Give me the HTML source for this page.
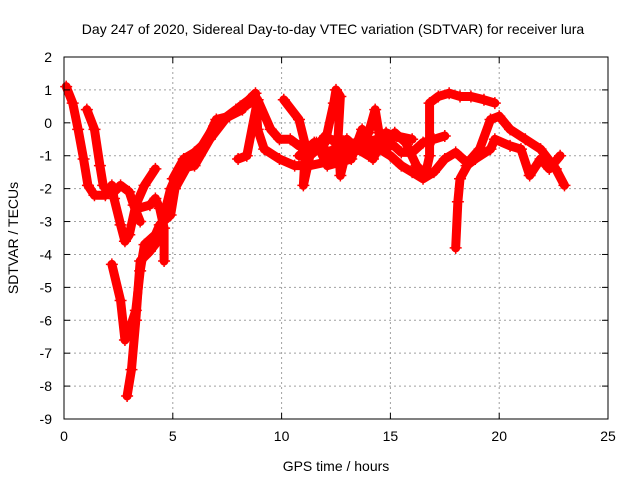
<!DOCTYPE html>
<html><head><meta charset="utf-8"><style>
body{margin:0;background:#fff}
svg{display:block;font-family:"Liberation Sans",sans-serif}
</style></head><body>
<svg id="chart" width="640" height="480" viewBox="0 0 640 480">
<rect width="640" height="480" fill="#fff"/>
<text x="333" y="34" font-size="14" text-anchor="middle" fill="#000">Day 247 of 2020, Sidereal Day-to-day VTEC variation (SDTVAR) for receiver lura</text>
<g id="grid"></g>
<g id="series"></g>
<rect x="64" y="57" width="544" height="362" fill="none" stroke="#000" stroke-width="1"/>
<g id="ticks"></g>
<text x="336" y="471" font-size="14" text-anchor="middle">GPS time / hours</text>
<text transform="translate(18,238) rotate(-90)" font-size="14" text-anchor="middle">SDTVAR / TECUs</text>
</svg>
<script>
const xTicks=[0,5,10,15,20,25];
const yTicks=[2,1,0,-1,-2,-3,-4,-5,-6,-7,-8,-9];
const s1=[[0.1,1.1],[0.4,0.6],[0.65,-0.2],[0.9,-1.1],[1.1,-1.9],[1.4,-2.2],[1.9,-2.2],[2.2,-1.9],[2.3,-2.3],[2.6,-3.1],[2.8,-3.6],[3.0,-3.4],[3.3,-2.5],[3.7,-1.9],[4.2,-1.4]];
const s2=[[1.05,0.4],[1.4,-0.2],[1.65,-1.3],[1.8,-1.9],[2.0,-2.1],[2.3,-2.1],[2.6,-1.9],[3.0,-2.1],[3.2,-2.5],[3.5,-3.0]];
const s3=[[2.2,-4.3],[2.6,-5.4],[2.8,-6.6],[3.0,-6.3],[3.3,-5.7],[3.5,-4.5],[3.7,-3.7],[4.2,-3.4],[4.4,-3.1],[4.9,-2.8],[5.1,-2.0],[5.6,-1.4],[6.25,-0.8],[6.9,-0.1],[7.9,0.4],[8.3,0.5],[8.8,0.7]];
const s4=[[2.9,-8.3],[3.1,-7.5],[3.3,-6.0],[3.5,-4.2],[3.95,-3.9],[4.3,-3.6],[4.6,-2.8],[4.9,-2.0],[5.3,-1.4],[6.0,-1.3],[6.7,-0.5],[7.4,0.1],[8.1,0.5],[8.5,0.7]];
const s5=[[3.4,-2.6],[3.95,-2.5],[4.2,-2.3],[4.4,-2.6],[4.6,-3.2],[4.6,-4.2]];
const s6=[[5.0,-1.7],[5.5,-1.1],[6.0,-0.9],[6.5,-0.6],[7.0,0.1],[7.6,0.2],[8.2,0.4]];
const s7=[[8.5,0.7],[8.8,0.9],[8.9,-0.2],[9.2,-0.8],[9.9,-1.1],[10.6,-1.3],[11.3,-1.3],[12.0,-1.2],[13.0,-0.9],[14.0,-0.6],[15.0,-1.0],[15.5,-1.3],[16.0,-1.5],[16.5,-1.7],[17.0,-1.5],[17.5,-1.1],[18.0,-0.9],[18.5,-1.2]];
const s8=[[8.0,-1.1],[8.4,-1.0],[8.9,0.7],[9.5,-0.2],[9.9,-0.5],[10.4,-0.5],[10.8,-0.7],[11.5,-0.8],[12.0,-0.4],[13.0,-0.8],[14.0,-0.5],[15.0,-0.7]];
const s9=[[10.1,0.7],[10.8,0.1],[11.1,-0.7],[11.0,-1.9],[11.3,-1.0],[12.0,-0.6],[12.4,0.6],[12.5,1.0],[12.7,0.8],[12.6,-0.4],[12.7,-1.6],[13.0,-0.8],[14.0,-0.3],[14.3,0.4],[14.5,-0.4],[15.0,-0.6],[15.5,-0.9],[16.0,-0.9],[16.5,-0.6],[17.0,-0.5],[17.5,-0.4]];
const s10=[[15.2,-0.3],[15.7,-0.6],[16.2,-1.3],[16.6,-1.6],[16.8,-1.0],[16.8,0.6],[17.2,0.8],[17.7,0.9],[18.2,0.8],[18.7,0.8],[19.3,0.7],[19.8,0.6]];
const s11=[[18.0,-3.8],[18.1,-2.4],[18.2,-1.7],[18.7,-1.1],[19.1,-0.8],[19.6,0.1],[20.0,0.2],[20.5,-0.2],[21.2,-0.5],[21.9,-0.8],[22.6,-1.4],[23.0,-1.9]];
const s12=[[18.5,-1.3],[18.9,-1.1],[19.6,-0.8],[19.8,-0.5],[20.5,-0.7],[21.0,-0.8],[21.4,-1.6],[21.9,-1.1],[22.3,-1.4],[22.8,-1.0]];
const s13=[[10.8,-1.0],[11.5,-0.6],[12.2,-0.9],[13.0,-0.5],[13.5,-0.8],[14.0,-1.0],[14.6,-0.5],[15.3,-0.4],[16.0,-0.5]];
const s14=[[11.6,-0.6],[12.1,-1.3],[13.2,-1.1],[13.7,-0.2],[14.2,-1.1],[14.8,-0.3],[15.6,-0.5]];
const allSeries=[s1,s2,s3,s4,s5,s6,s7,s8,s9,s10,s11,s12,s13,s14];
const X=t=>64+t*(544/25);
const Y=v=>57+(2-v)*(362/11);
const NS="http://www.w3.org/2000/svg";
const grid=document.getElementById('grid'),ticks=document.getElementById('ticks'),ser=document.getElementById('series');
function mk(tag,a,p){const e=document.createElementNS(NS,tag);for(const k in a)e.setAttribute(k,a[k]);p.appendChild(e);return e;}
xTicks.forEach(t=>{
 const g=mk('line',{x1:X(t),x2:X(t),y1:57,y2:419,stroke:'#a0a0a0','stroke-dasharray':'2,3'},grid);
 
 
 mk('line',{x1:X(t),x2:X(t),y1:419,y2:413,stroke:'#000'},ticks);
 mk('line',{x1:X(t),x2:X(t),y1:57,y2:63,stroke:'#000'},ticks);
 const l=mk('text',{x:X(t),y:441,'font-size':14,'text-anchor':'middle'},ticks);l.textContent=t;
 
 
});
yTicks.forEach(v=>{
 const g=mk('line',{x1:64,x2:608,y1:Y(v),y2:Y(v),stroke:'#a0a0a0','stroke-dasharray':'2,3'},grid);
 
 
 mk('line',{x1:64,x2:70,y1:Y(v),y2:Y(v),stroke:'#000'},ticks);
 mk('line',{x1:602,x2:608,y1:Y(v),y2:Y(v),stroke:'#000'},ticks);
 const l=mk('text',{x:52,y:Y(v)+5,'font-size':14,'text-anchor':'end'},ticks);l.textContent=v;
 
 
});
allSeries.forEach((s,i)=>{
 const pl=mk('polyline',{points:s.map(p=>X(p[0])+','+Y(p[1])).join(' '),fill:'none',stroke:'#f00','stroke-width':9,'stroke-linejoin':'round','stroke-linecap':'round'},ser);
 
 
 s.forEach(p=>{
  const x=X(p[0]),y=Y(p[1]);
  const m=mk('path',{d:`M${x-6},${y}H${x+6}M${x},${y-6}V${y+6}`,stroke:'#f00','stroke-width':1.5},ser);
  
  
 });
});
</script>
</body></html>
